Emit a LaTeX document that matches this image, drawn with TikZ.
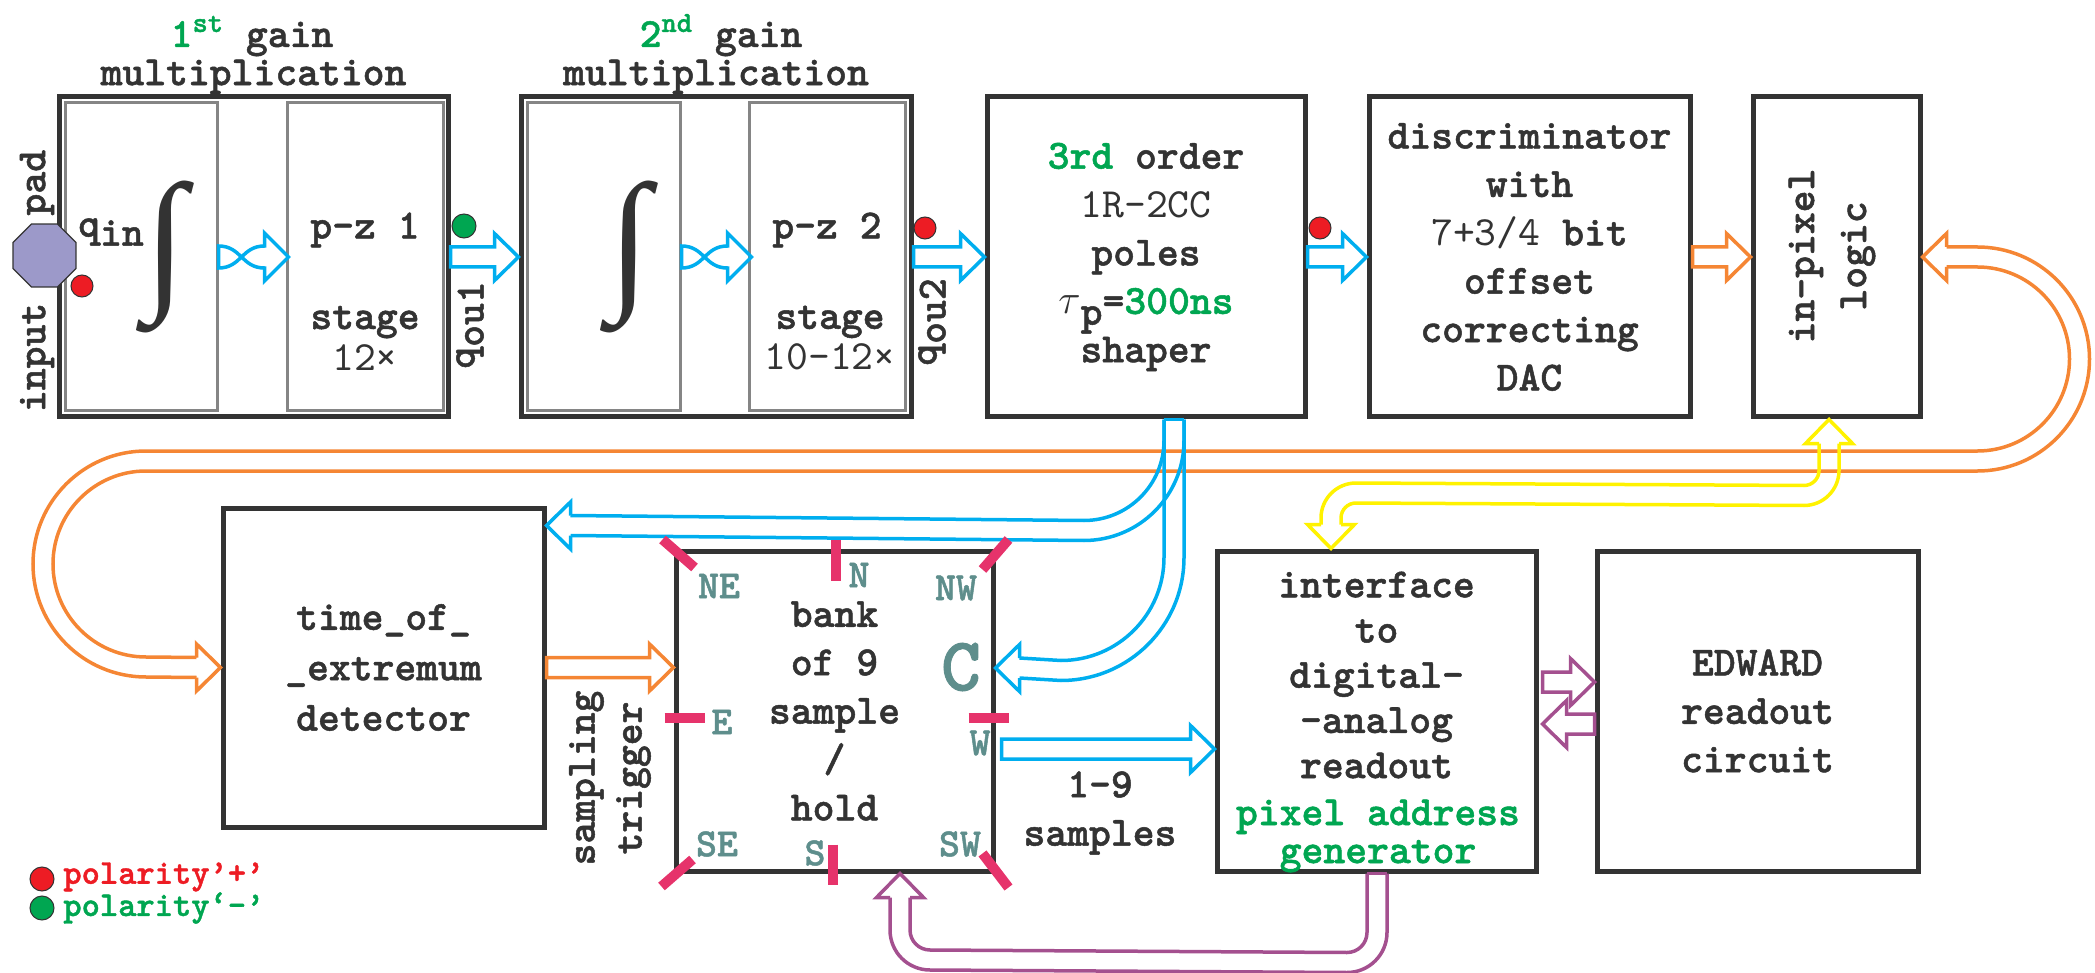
\documentclass[tikz,border=0pt]{standalone}
\usepackage{fontspec}
\setmonofont{lmmono10-regular}[Extension=.otf, BoldFont=lmmonolt10-bold, BoldFeatures={FakeBold=1.2}]
\newfontfamily\intfont{Liberation Serif}
\usepackage{graphicx}
\usetikzlibrary{calc,shapes.geometric}

\definecolor{dgray}{HTML}{333333}
\definecolor{lgray}{HTML}{858585}
\definecolor{pcyan}{HTML}{00AEEF}
\definecolor{porange}{HTML}{F58634}
\definecolor{pyellow}{HTML}{FFF200}
\definecolor{pmag}{HTML}{A4508F}
\definecolor{pgreen}{HTML}{00A651}
\definecolor{pred}{HTML}{ED1C24}
\definecolor{ptick}{HTML}{E6336B}
\definecolor{pteal}{HTML}{5E8E8C}
\definecolor{ppad}{HTML}{9C99C9}

\newcommand{\boxfont}{\fontsize{20.8}{24.2}\selectfont\ttfamily\bfseries}
% open head of a pipe: colour, tip, direction
\newcommand{\pipehead}[3]{\draw[#1, shift={(#2)}, rotate=#3] (-24,-10) -- (-24,-23.5) -- (0,0) -- (-24,23.5) -- (-24,10);}
% straight block arrows: colour, tail, tip
\newcommand{\blockR}[3]{\draw[#1] ($(#3)+(-24,-10)$) -- ($(#3)+(-24,-23.5)$) -- (#3) -- ($(#3)+(-24,23.5)$) -- ($(#3)+(-24,10)$) -- ($(#2)+(0,10)$) -- ($(#2)+(0,-10)$) -- cycle;}
\newcommand{\blockL}[3]{\draw[#1] ($(#3)+(24,-10)$) -- ($(#3)+(24,-23.5)$) -- (#3) -- ($(#3)+(24,23.5)$) -- ($(#3)+(24,10)$) -- ($(#2)+(0,10)$) -- ($(#2)+(0,-10)$) -- cycle;}

\begin{document}
\begin{tikzpicture}[x=0.5pt,y=0.5pt,yscale=-1,xscale=1,
  box/.style={draw=dgray, line width=2.5pt, fill=white, minimum width=160pt, minimum height=160pt, inner sep=0pt, align=center, text=dgray, font=\boxfont},
  subbox/.style={draw=lgray, line width=1.5pt, minimum height=154pt, inner sep=0pt},
  txt/.style={text=dgray, font=\boxfont, align=center, inner sep=0pt},
  cpipe/.style={draw=pcyan, line width=1.75pt},
  opipe/.style={draw=porange, line width=1.75pt},
  ypipe/.style={draw=pyellow, line width=1.75pt},
  mpipe/.style={draw=pmag, line width=1.75pt},
  tick/.style={draw=ptick, line width=5pt},
  compass/.style={text=pteal, font=\fontsize{20}{20}\selectfont\ttfamily\bfseries, inner sep=0pt},
  dot/.style={circle, draw=dgray, line width=0.5pt, minimum size=11pt, inner sep=0pt},
  pics/twist/.style={code={
    \draw[cpipe] (0,11) -- (0,-11) .. controls (23,-11) and (23,11) .. (46,11) -- (46,24) -- (70,0) -- (46,-24) -- (46,-11) .. controls (23,-11) and (23,11) .. (0,11) -- cycle;
  }}]
%set diagram left start at 0, and has height of 973
\useasboundingbox (0,0) rectangle (2095,973);

%Shape: Rectangle [id:g1]
\node[box, minimum width=194.5pt] (g1) at (253.5,257) {};
\node[subbox, minimum width=76pt] (g1a) at (141,257) {};
\node[subbox, minimum width=78pt] (g1b) at (365,257) {};
%Shape: Rectangle [id:g2]
\node[box, minimum width=195pt] (g2) at (716,257) {};
\node[subbox, minimum width=76.5pt] (g2a) at (603.5,257) {};
\node[subbox, minimum width=78pt] (g2b) at (827,257) {};
%Shape: Rectangle [id:shaper]
\node[box, minimum width=159pt] (shaper) at (1146,257) {{\color{pgreen}3rd} order\\{\mdseries 1R-2CC}\\poles\\$\tau$\raisebox{-.6ex}{p}={\color{pgreen}300ns}\\shaper};
%Shape: Rectangle [id:discr]
\node[box, minimum width=160.5pt] (discr) at (1529.5,257) {discriminator\\with\\{\mdseries 7+3/4} bit\\offset\\correcting\\DAC};
%Shape: Rectangle [id:inpixel]
\node[box, minimum width=83.5pt] (inpixel) at (1836.5,257) {};
%Shape: Rectangle [id:detector]
\node[box, minimum width=160.5pt, minimum height=159.5pt] (detector) at (383.5,667.5) {time\_of\_\\[1pt]\_extremum\\[1pt]detector};
%Shape: Rectangle [id:bank]
\node[box, minimum width=158.5pt] (bank) at (834.5,711) {bank\\of 9\\sample\\/\\hold};
%Shape: Rectangle [id:interface]
\node[box, minimum width=159.5pt] (interface) at (1376.5,711) {};
%Shape: Rectangle [id:edward]
\node[box, minimum width=160.5pt] (edward) at (1757.5,711) {EDWARD\\readout\\circuit};

% Text Node
\node[txt, anchor=south] (g1mul) at (g1.north) {multiplication};
\node[txt, anchor=base] (g1gain) at (252,47) {{\color{pgreen}1\textsuperscript{st}} gain};
\node[txt, anchor=south] (g2mul) at (g2.north) {multiplication};
\node[txt, anchor=base] (g2gain) at (721,47) {{\color{pgreen}2\textsuperscript{nd}} gain};
\node[txt] (qin) at (111,232) {q\raisebox{-.5ex}{in}};
\node[txt] (int1) at (166,257) {\resizebox*{21pt}{76pt}{\intfont\bfseries ∫}};
\node[txt] (int2) at (629,257) {\resizebox*{21pt}{76pt}{\intfont\bfseries ∫}};
\node[txt] (pz1) at (365,230) {p-z 1};
\node[txt, font=\fontsize{20.8}{20.5}\selectfont\ttfamily\bfseries] (st1) at (365,338) {stage\\{\mdseries 12×}};
\node[txt] (pz2) at (827,230) {p-z 2};
\node[txt, font=\fontsize{20.8}{20.5}\selectfont\ttfamily\bfseries] (st2) at (830,338) {stage\\{\mdseries 10-12×}};
\node[txt, rotate=90] (padlbl) at (37,281) {input\hspace{2.1em}pad};
\node[txt, rotate=90] (qo1) at (470,325) {q\raisebox{-.5ex}{ou1}};
\node[txt, rotate=90] (qo2) at (932,322) {q\raisebox{-.5ex}{ou2}};
\node[txt, rotate=90, font=\fontsize{20.8}{26}\selectfont\ttfamily\bfseries] (iplbl) at (1832,256) {in-pixel\\logic};
\node[txt, rotate=90, font=\fontsize{20.8}{23.5}\selectfont\ttfamily\bfseries] (trig) at (610,778) {sampling\\trigger};
\node[txt] (nsmp) at (1100,813) {1-9\\samples};
\node[txt, font=\fontsize{20.8}{22.6}\selectfont\ttfamily\bfseries] (ifclbl) at (1376.5,675) {interface\\to\\digital-\\-analog\\readout};
\node[txt, text=pgreen, font=\fontsize{20.8}{19}\selectfont\ttfamily\bfseries] (addr) at (1378,836) {pixel address\\generator};

%Shape: Octagon [id:pad]
\node[regular polygon, regular polygon sides=8, minimum size=34pt, draw=dgray, fill=ppad, line width=0.6pt, inner sep=0pt] (pad) at (44.5,255.5) {};
%Shape: Circle
\node[dot, fill=pred] (pindot) at (82,286) {};
\node[dot, fill=pgreen, minimum size=12pt] (qo1dot) at (464,226) {};
\node[dot, fill=pred] (qo2dot) at (925,228) {};
\node[dot, fill=pred] (shdot) at (1320,228) {};

%Shape: Twisted Arrow
\pic at (g1a.east) {twist};
\pic at (g2a.east) {twist};

%Shape: Right Arrow
\blockR{cpipe}{g1.east}{g2.west}
\blockR{cpipe}{g2.east}{shaper.west}
\blockR{cpipe}{shaper.east}{discr.west}
\blockR{opipe}{discr.east}{inpixel.west}
\coordinate (bankin) at (bank.west|-detector.east);
\blockR{opipe}{detector.east}{bankin}
\coordinate (smpout) at ($(bank.east)+(6,38)$);
\coordinate (smpin) at (interface.west|-smpout);
\blockR{cpipe}{smpout}{smpin}
\coordinate (rdout) at ($(interface.east)+(4,-29)$);
\coordinate (rdin) at (edward.west|-rdout);
\blockR{mpipe}{rdout}{rdin}
\coordinate (rdback) at ($(interface.east)+(4,13)$);
\coordinate (rdsrc) at (edward.west|-rdback);
\blockL{mpipe}{rdsrc}{rdback}

%Curve Lines: orange loop in-pixel logic <-> time_of_extremum
\draw[opipe] ($(inpixel.east)+(24,-10)$) -- ++(31,0) arc[start angle=-90, end angle=90, radius=112] -- (146,471) arc[start angle=270, end angle=90, radius=93] -- ($(detector.west)+(-24,-10)$);
\draw[opipe] ($(inpixel.east)+(24,10)$) -- ++(31,0) arc[start angle=-90, end angle=90, radius=92] -- (146,451) arc[start angle=270, end angle=90, radius=113] -- ($(detector.west)+(-24,10)$);
\pipehead{opipe}{inpixel.east}{180}
\pipehead{opipe}{detector.west}{0}

%Curve Lines: shaper output to detector and to C
\coordinate (shout) at ($(shaper.south)+(28,0)$);
\coordinate (detin) at ($(detector.north east)+(0,20)$);
\coordinate (bankC) at ($(bank.east)+(0,-43)$);
\draw[cpipe] ($(shout)+(-10,0)$) -- ++(0,21) arc[start angle=0, end angle=90, radius=80] -- ($(detin)+(24,-10)$);
\draw[cpipe] ($(shout)+(10,0)$) -- ++(0,21) arc[start angle=0, end angle=90, radius=100] -- ($(detin)+(24,10)$);
\draw[cpipe] ($(shout)+(-10,0)$) -- ++(0,138) arc[start angle=0, end angle=90, radius=103] -- ($(bankC)+(24,-10)$);
\draw[cpipe] ($(shout)+(10,0)$) -- ++(0,138) arc[start angle=0, end angle=90, radius=123] -- ($(bankC)+(24,10)$);
\draw[cpipe] ($(shout)+(-10,0)$) -- ($(shout)+(10,0)$);
\pipehead{cpipe}{detin}{180}
\pipehead{cpipe}{bankC}{180}

%Curve Lines: in-pixel logic <-> interface
\coordinate (ipin) at ($(inpixel.south)+(-7.5,0)$);
\coordinate (ifin) at ($(interface.north)+(-45.5,0)$);
\draw[ypipe] ($(ipin)+(-10,24)$) -- ++(0,27) arc[start angle=0, end angle=90, radius=15] -- (1356,483) arc[start angle=270, end angle=180, radius=35] -- ($(ifin)+(-10,-24)$);
\draw[ypipe] ($(ipin)+(10,24)$) -- ++(0,27) arc[start angle=0, end angle=90, radius=35] -- (1356,503) arc[start angle=270, end angle=180, radius=15] -- ($(ifin)+(10,-24)$);
\pipehead{ypipe}{ipin}{-90}
\pipehead{ypipe}{ifin}{90}

%Curve Lines: pixel address generator to bank
\coordinate (ifout) at ($(interface.south)+(0.5,0)$);
\coordinate (bankS) at ($(bank.south)+(65.5,0)$);
\draw[mpipe] ($(ifout)+(10,0)$) -- ++(0,59) arc[start angle=0, end angle=90, radius=40] -- (930,970) arc[start angle=90, end angle=180, radius=40] -- ($(bankS)+(-10,24)$);
\draw[mpipe] ($(ifout)+(-10,0)$) -- ++(0,59) arc[start angle=0, end angle=90, radius=20] -- (930,950) arc[start angle=90, end angle=180, radius=20] -- ($(bankS)+(10,24)$);
\draw[mpipe] ($(ifout)+(-10,0)$) -- ($(ifout)+(10,0)$);
\pipehead{mpipe}{bankS}{-90}

%Straight Lines: pins of the sample/hold bank
\draw[tick] ($(bank.north west)+(-11,-9)$) -- ($(bank.north west)+(21,19)$);
\draw[tick] ($(bank.north)+(1.5,-9)$) -- ($(bank.north)+(1.5,32)$);
\draw[tick] ($(bank.north east)+(13,-9)$) -- ($(bank.north east)+(-13,21)$);
\draw[tick] ($(bank.west)+(-9,7)$) -- ($(bank.west)+(31,7)$);
\draw[tick] ($(bank.east)+(-27,7)$) -- ($(bank.east)+(13,7)$);
\draw[tick] ($(bank.south west)+(-12,13)$) -- ($(bank.south west)+(19,-14)$);
\draw[tick] ($(bank.south)+(-1.5,-29)$) -- ($(bank.south)+(-1.5,11)$);
\draw[tick] ($(bank.south east)+(-13,-20)$) -- ($(bank.south east)+(13,14)$);

% Text Node
\node[compass] (lNE) at (719,586) {NE};
\node[compass] (lN) at (859,575) {N};
\node[compass] (lNW) at (956,588) {NW};
\node[compass, font=\fontsize{38}{38}\selectfont\ttfamily\bfseries] (lC) at (961,667) {C};
\node[compass] (lE) at (722,722) {E};
\node[compass] (lW) at (980,743) {W};
\node[compass] (lSE) at (717,844) {SE};
\node[compass] (lS) at (815,853) {S};
\node[compass] (lSW) at (960,844) {SW};

% Text Node: legend
\node[dot, fill=pred, minimum size=12pt] (lgp) at (42,879) {};
\node[anchor=west, text=pred, font=\fontsize{17.4}{17}\selectfont\ttfamily\bfseries, inner sep=0pt] (lgptxt) at (63,877) {polarity’+’};
\node[dot, fill=pgreen, minimum size=12pt] (lgm) at (42,908) {};
\node[anchor=west, text=pgreen, font=\fontsize{17.4}{17}\selectfont\ttfamily\bfseries, inner sep=0pt] (lgmtxt) at (63,908) {polarity‘-’};

\end{tikzpicture}
\end{document}
